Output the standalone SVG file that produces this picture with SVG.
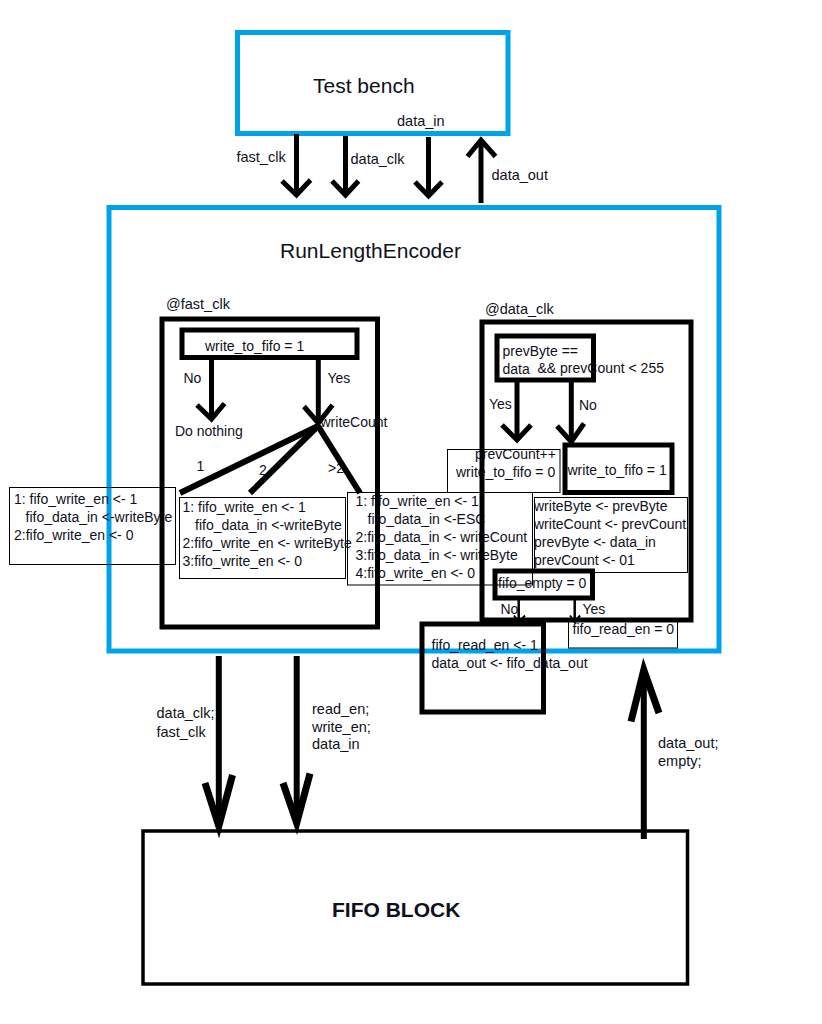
<svg xmlns="http://www.w3.org/2000/svg" width="822" height="1024" viewBox="0 0 822 1024">
<style>
  text { font-family: "Liberation Sans", Arial, sans-serif; font-size: 14px; fill: #10101c; }
  .big { font-size: 21px; }
  .lbl { font-size: 14.5px; }
  .bold { font-weight: bold; }
  .blue { fill: none; stroke: #00A2E8; stroke-width: 5; }
  .thick { fill: none; stroke: #000; stroke-width: 5; }
  .thin { fill: none; stroke: #000; stroke-width: 1; }
  .wire { fill: none; stroke: #000; stroke-width: 5; }
  .wire6 { fill: none; stroke: #000; stroke-width: 6; }
  .wsmall { fill: none; stroke: #000; stroke-width: 2.5; }
  .head { fill: none; stroke: #000; stroke-width: 5; stroke-linejoin: miter; }
  .headb { fill: none; stroke: #000; stroke-width: 7; stroke-linejoin: miter; }
  .heads { fill: none; stroke: #000; stroke-width: 2; }
</style>

<g id="testbench">
  <rect class="blue" x="237.5" y="32.5" width="270.5" height="101"/>
  <text class="big" x="313" y="93">Test bench</text>
</g>

<g id="rle">
  <rect class="blue" x="109" y="207.5" width="610" height="443.5"/>
  <text class="big" x="280" y="258">RunLengthEncoder</text>
</g>

<g id="fast-actions">
  <g id="fast-act-1">
    <rect class="thin" x="9.5" y="487.5" width="166" height="77"/>
    <text x="14" y="504">1: fifo_write_en &lt;- 1</text>
    <text x="25.5" y="522">fifo_data_in &lt;-writeByte</text>
    <text x="14" y="540">2:fifo_write_en &lt;- 0</text>
  </g>
  <g id="fast-act-2">
    <rect class="thin" x="179.5" y="497.5" width="166" height="81"/>
    <text x="182.5" y="511.5">1: fifo_write_en &lt;- 1</text>
    <text x="195" y="529.5">fifo_data_in &lt;-writeByte</text>
    <text x="182.5" y="547.5">2:fifo_write_en &lt;- writeByte</text>
    <text x="182.5" y="565.5">3:fifo_write_en &lt;- 0</text>
  </g>
  <g id="fast-act-3">
    <rect class="thin" x="347.5" y="492.5" width="185" height="92.5"/>
    <text x="355.5" y="506">1: fifo_write_en &lt;- 1</text>
    <text x="367.5" y="524">fifo_data_in &lt;-ESC</text>
    <text x="355.5" y="542">2:fifo_data_in &lt;- writeCount</text>
    <text x="355.5" y="560">3:fifo_data_in &lt;- writeByte</text>
    <text x="355.5" y="577.5">4:fifo_write_en &lt;- 0</text>
  </g>
</g>

<g id="data-actions">
  <g id="data-yes">
    <rect class="thin" x="447.5" y="449.5" width="112.5" height="43"/>
    <text x="475" y="458.5">prevCount++</text>
    <text x="456" y="476.5">write_to_fifo = 0</text>
  </g>
  <g id="data-update">
    <rect class="thin" x="534.5" y="497.5" width="153" height="75"/>
    <text x="534" y="511">writeByte &lt;- prevByte</text>
    <text x="534" y="529">writeCount &lt;- prevCount</text>
    <text x="534" y="546.5">prevByte &lt;- data_in</text>
    <text x="534" y="564.5">prevCount &lt;- 01</text>
  </g>
  <g id="read-no">
    <rect class="thin" x="568.5" y="620.5" width="109" height="27.5"/>
    <text x="572.5" y="633.5">fifo_read_en = 0</text>
  </g>
</g>

<g id="fast-process">
  <text class="lbl" x="166" y="309">@fast_clk</text>
  <rect class="thick" x="162" y="319" width="215.5" height="308"/>
  <g id="fast-cond">
    <rect class="thick" x="182" y="330" width="175" height="27.5"/>
    <text x="205" y="351">write_to_fifo = 1</text>
  </g>
  <text x="183.5" y="383">No</text>
  <text x="327.5" y="383">Yes</text>
  <text x="175" y="436">Do nothing</text>
  <text x="320.5" y="427">writeCount</text>
  <text x="196.5" y="470.5">1</text>
  <text x="259" y="475">2</text>
  <text x="328" y="473">&gt;2</text>
</g>

<g id="data-process">
  <text class="lbl" x="485" y="314">@data_clk</text>
  <rect class="thick" x="482" y="322" width="209" height="298"/>
  <g id="data-cond">
    <rect class="thick" x="497" y="336" width="96.5" height="44"/>
    <text x="502.5" y="355.5">prevByte ==</text>
    <text x="502.5" y="374">data</text>
    <text x="537.5" y="372.5">&amp;&amp; prevCount &lt; 255</text>
  </g>
  <text x="489" y="409">Yes</text>
  <text x="579" y="410">No</text>
  <g id="data-no">
    <rect class="thick" x="565" y="445" width="107" height="47.5"/>
    <text x="567.5" y="475">write_to_fifo = 1</text>
  </g>
  <g id="empty-cond">
    <rect class="thick" x="495" y="571" width="97.5" height="27"/>
    <text x="498" y="587.5">fifo_empty = 0</text>
  </g>
  <text x="500.5" y="613.5">No</text>
  <text x="582.5" y="613.5">Yes</text>
</g>

<g id="read-yes">
  <rect class="thick" x="422" y="624" width="121.5" height="88"/>
  <text x="431.5" y="650">fifo_read_en &lt;- 1</text>
  <text x="431.5" y="668">data_out &lt;- fifo_data_out</text>
</g>

<g id="fifo">
  <rect fill="none" stroke="#000" stroke-width="3.5" x="143" y="831" width="544.5" height="153"/>
  <text class="bold" x="332" y="917" style="font-size:21px">FIFO BLOCK</text>
</g>

<g id="connectors">
  <line class="wire" x1="296.5" y1="134" x2="296.5" y2="193"/>
  <polyline class="head" points="282,181 296.5,195 310.5,180"/>
  <line class="wire" x1="345.5" y1="136" x2="345.5" y2="193"/>
  <polyline class="head" points="332,181 345.5,195 358.5,181"/>
  <line class="wire" x1="428.5" y1="137" x2="428.5" y2="194"/>
  <polyline class="head" points="415,182 428.5,196 442,182"/>
  <line class="wire" x1="481" y1="203" x2="481" y2="142"/>
  <polyline class="head" points="467.5,156.5 481,140 495.5,156.5"/>
  <text class="lbl" x="236.5" y="161.5">fast_clk</text>
  <text class="lbl" x="350.5" y="164">data_clk</text>
  <text class="lbl" x="397" y="126">data_in</text>
  <text class="lbl" x="491.5" y="180">data_out</text>

  <line class="wire" x1="211.5" y1="360" x2="211.5" y2="417"/>
  <polyline class="head" points="197,405 211.5,419 224.5,403.5"/>
  <line class="wire" x1="318.3" y1="360" x2="318.3" y2="421"/>
  <polyline class="head" points="304,406.5 318.3,423 332.5,405"/>

  <line class="wire6" x1="318" y1="426" x2="180" y2="493"/>
  <line class="wire6" x1="318" y1="426" x2="250" y2="493"/>
  <line class="wire6" x1="318" y1="426" x2="360" y2="493"/>

  <line class="wire" x1="517" y1="382" x2="517" y2="438"/>
  <polyline class="head" points="502,425 517,440 531,425"/>
  <line class="wire" x1="571.3" y1="382" x2="571.3" y2="440"/>
  <polyline class="head" points="557,426 571.3,441.7 584,423.5"/>

  <line class="wsmall" x1="518.7" y1="599" x2="518.7" y2="621"/>
  <polyline class="heads" points="514,615.5 518.7,622 525,615.5"/>
  <line class="wsmall" x1="574.7" y1="599" x2="574.7" y2="621"/>
  <polyline class="heads" points="570,615.5 574.7,622 580,615.5"/>

  <line class="wire6" x1="218.8" y1="656" x2="218.8" y2="826"/>
  <polyline class="headb" points="205,783 218.8,826 232.5,775"/>
  <line class="wire6" x1="296.7" y1="656" x2="296.7" y2="823"/>
  <polyline class="headb" points="283,783 296.7,823 310,773.5"/>
  <line class="wire6" x1="643.8" y1="839" x2="643.8" y2="671"/>
  <polyline class="headb" points="631,721.5 643.8,670 659,713"/>

  <text class="lbl" x="156.5" y="718">data_clk;</text>
  <text class="lbl" x="156.5" y="736.5">fast_clk</text>
  <text class="lbl" x="312" y="714">read_en;</text>
  <text class="lbl" x="312" y="731.5">write_en;</text>
  <text class="lbl" x="312" y="749">data_in</text>
  <text class="lbl" x="658" y="748">data_out;</text>
  <text class="lbl" x="658" y="766">empty;</text>
</g>
</svg>
